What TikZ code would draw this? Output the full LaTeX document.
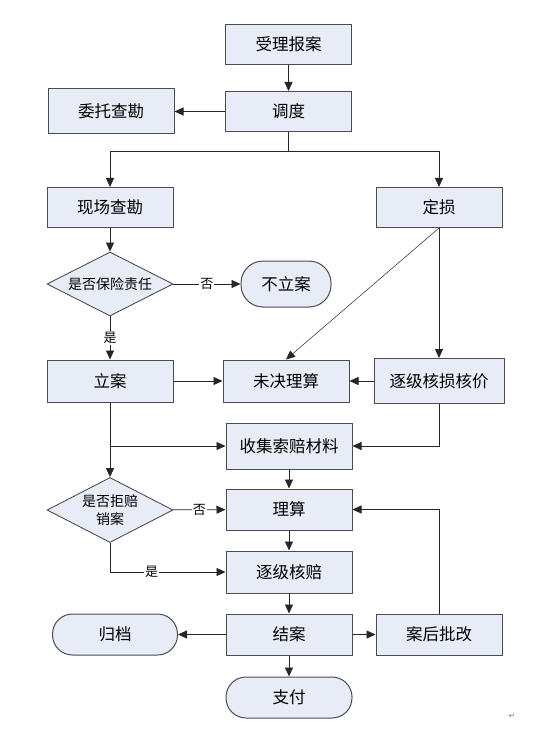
\documentclass[tikz,border=0pt]{standalone}
\usepackage{fontspec}
\setmainfont{Noto Sans CJK SC}
\newfontfamily\markfont{DejaVu Sans}
\usetikzlibrary{arrows.meta, shapes.geometric, positioning}
\definecolor{boxblue}{HTML}{E7ECF7}

\begin{document}
\begin{tikzpicture}[x=1pt, y=-1pt,
    box/.style={draw=black!70, fill=boxblue, line width=1pt, minimum width=126pt, minimum height=40pt, inner sep=0pt, font=\fontsize{16.5}{19}\selectfont},
    term/.style={box, rounded corners=20pt},
    decide/.style={diamond, draw=black!75, fill=boxblue, line width=0.8pt, aspect=2, minimum width=126pt, minimum height=64pt, inner sep=0pt, font=\fontsize{14}{18}\selectfont},
    flow/.style={draw=black!85, line width=0.8pt, -{Triangle[length=9pt, width=8pt]}},
    lbl/.style={fill=white, inner sep=1pt, font=\fontsize{13}{14}\selectfont}]
          \useasboundingbox (0,0) rectangle (543,743);

          \node [box] (report) at (288.5,44.5) {受理报案};
          \node [box] (dispatch) at (288.5,111.5) {调度};
          \node [box, minimum height=45pt] (entrust) at (111,111.5) {委托查勘};

          \node [box] (survey) at (110,207.5) {现场查勘};
          \node [box] (assess) at (439,207.5) {定损};

          \node [decide] (liable) at (110,284) {是否保险责任};
          \node [term, rounded corners=22pt, minimum width=90pt, minimum height=46pt] (noreg) at (286,284) {不立案};

          \node [box, minimum height=42pt] (register) at (110,381) {立案};
          \node [box, minimum height=42pt] (pending) at (286,381) {未决理算};
          \node [box, minimum width=130pt, minimum height=45pt] (verify) at (439,381) {逐级核损核价};

          \node [box, minimum height=46pt] (collect) at (289,446) {收集索赔材料};

          \node [decide, minimum height=65pt, align=center] (reject) at (110,510) {是否拒赔\\销案};
          \node [box, minimum height=41pt] (adjust) at (289,509.5) {理算};
          \node [box, minimum height=42pt] (approve) at (289,572) {逐级核赔};

          \node [term, minimum width=125pt, minimum height=41pt] (archive) at (115,634.5) {归档};
          \node [box, minimum height=41pt] (close) at (289,634.5) {结案};
          \node [box, minimum height=41pt] (amend) at (439,634.5) {案后批改};
          \node [term, minimum height=41pt] (pay) at (289,697.5) {支付};

          \node [text=black!50, font=\markfont\fontsize{8}{8}\selectfont] (para) at (512,716) {↵};

          \coordinate (split) at (dispatch.south |- 0,151);
          \coordinate (join) at (register.south |- collect);

          \draw [flow] (report) -- (dispatch);
          \draw [flow] (dispatch) -- (entrust);
          \draw [draw=black!85, line width=0.8pt] (dispatch) -- (split);
          \draw [flow] (split) -| (survey);
          \draw [flow] (split) -| (assess);

          \draw [flow] (survey) -- (liable);
          \draw [flow] (liable) -- node [lbl] {否} (noreg);
          \draw [flow] (liable) -- node [lbl] {是} (register);

          \draw [flow, line width=0.5pt] (assess.south) -- (pending.north);
          \draw [flow] (assess) -- (verify);
          \draw [flow] (register) -- (pending);
          \draw [flow] (verify) -- (pending);

          \draw [flow] (register) -- (reject);
          \draw [flow] (join) -- (collect);
          \draw [flow] (verify) |- (collect);
          \draw [flow] (collect) -- (adjust);

          \draw [flow] (reject) -- node [lbl] {否} (adjust);
          \draw [flow] (reject) |- node [lbl, pos=0.68] {是} (approve);
          \draw [flow] (adjust) -- (approve);
          \draw [flow] (approve) -- (close);

          \draw [flow] (close) -- (archive);
          \draw [flow] (close) -- (amend);
          \draw [flow] (close) -- (pay);
          \draw [flow] (amend) |- (adjust);
        \end{tikzpicture}
\end{document}
